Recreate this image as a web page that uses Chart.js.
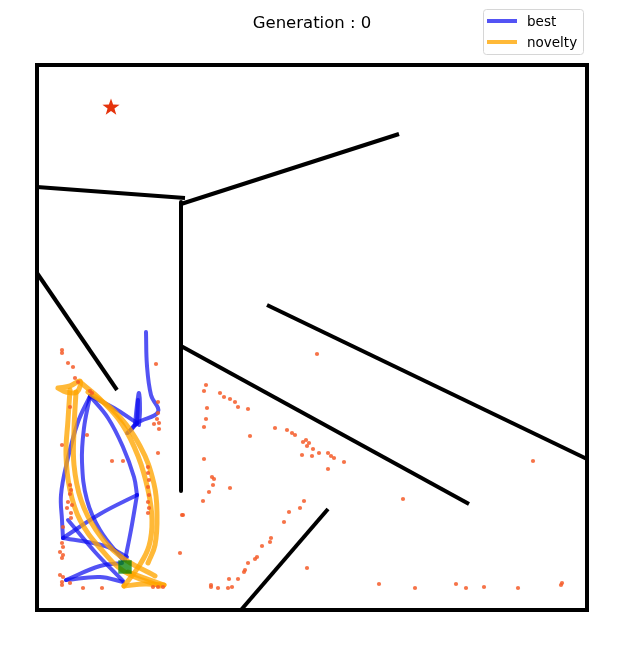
<!DOCTYPE html>
<html>
<head>
<meta charset="utf-8">
<script src="https://cdn.jsdelivr.net/npm/chart.js@4.4.0/dist/chart.umd.min.js"></script>
<style>
  body { margin: 0; background: #fff; }
</style>
</head>
<body>
<canvas id="maze" width="624" height="648"></canvas>
<script>
// maze coordinates (x to the right, y downwards)
const chartTitle = 'Generation : 0';
const seriesNames = ['best', 'novelty'];
const mazeBounds = [[37, 65], [587, 65], [587, 610], [37, 610], [37, 65]];
const walls = [
  [[37, 187], [185, 198]],
  [[181, 202], [181, 491]],
  [[181, 204], [399, 134]],
  [[37, 273], [117, 390]],
  [[267, 305], [587, 459]],
  [[181, 346], [469, 504]],
  [[241, 610], [328, 509]]
];
const goal = [111, 107];
const start = [125, 567];

// trajectory of the best genome
const bestStrokes = [
  [[146, 332], [147, 366], [151, 395], [158, 412], [137, 423], [128, 433]],
  [[135, 425], [137, 405], [139, 393], [140, 410], [139, 425]],
  [[137, 424], [138, 400]],
  [[137, 423], [131, 430], [127, 433]],
  [[90, 396], [114, 408], [137, 423]],
  [[90, 396], [78, 422], [67, 462], [61, 495], [62, 520], [63, 538]],
  [[90, 396], [108, 418], [123, 447], [134, 477], [137, 495]],
  [[90, 396], [84, 428], [82, 462], [87, 500], [100, 530], [123, 560]],
  [[63, 538], [100, 514], [137, 495]],
  [[137, 495], [131, 530], [125, 560]],
  [[63, 538], [105, 546], [127, 557]],
  [[68, 520], [95, 552], [123, 581]],
  [[66, 580], [100, 566], [122, 563]],
  [[66, 580], [100, 577], [123, 582]]
];

// trajectory of the most novel genome
const noveltyStrokes = [
  [[58, 388], [70, 386], [80, 381], [77, 392], [66, 392], [58, 388]],
  [[70, 390], [68, 420], [66, 455], [70, 490], [80, 520], [100, 548], [125, 572], [160, 586]],
  [[76, 392], [74, 430], [74, 465], [81, 500], [96, 530], [120, 556], [155, 576]],
  [[80, 382], [101, 400], [122, 424], [138, 456], [148, 490], [152, 520], [149, 546], [139, 566], [124, 586]],
  [[88, 392], [115, 412], [140, 446], [154, 484], [157, 515], [155, 545], [148, 563]],
  [[124, 586], [145, 584], [164, 585]],
  [[128, 572], [164, 585]]
];

// end points of the population
const visited = [
  [62, 350], [62, 353], [68, 363], [73, 367], [156, 364], [75, 378], [78, 382], [90, 391], [92, 393],
  [158, 402], [158, 413], [157, 419], [154, 424], [159, 423], [159, 429], [87, 435], [62, 445], [70, 407],
  [158, 453], [112, 461], [123, 461], [148, 467], [148, 473], [149, 480], [148, 487], [149, 495], [148, 502],
  [149, 508], [148, 513], [70, 485], [71, 490], [70, 494], [68, 502], [72, 505], [67, 508], [71, 513],
  [71, 518], [63, 527], [62, 543], [63, 547], [60, 552], [63, 555], [62, 558], [60, 575], [63, 577],
  [62, 582], [62, 585], [70, 583], [83, 588], [102, 588], [153, 587], [158, 587], [163, 587], [183, 515],
  [180, 553],
  [317, 354], [206, 385], [204, 391], [220, 393], [224, 397], [230, 399], [235, 402], [238, 407], [248, 409],
  [207, 408], [206, 419], [204, 427], [275, 428], [250, 436], [287, 430], [292, 433], [295, 435],
  [303, 442], [306, 440], [307, 446], [309, 443], [313, 449], [319, 453], [302, 455], [312, 456],
  [328, 453], [331, 456], [334, 458], [344, 462], [328, 469], [204, 459], [212, 477], [214, 479],
  [213, 485], [209, 492], [230, 488], [203, 501], [182, 515], [304, 501], [300, 508], [289, 512],
  [284, 522], [271, 538], [270, 542], [262, 546], [257, 557], [255, 559], [248, 563], [245, 570],
  [244, 572], [238, 579], [229, 579], [232, 587], [228, 588], [218, 588], [211, 587], [211, 585],
  [307, 568], [533, 461], [403, 499], [379, 584], [415, 588], [456, 584], [466, 588], [484, 587],
  [518, 588], [562, 583], [561, 585]
];

const toPoints = list => list.map(([x, y]) => ({ x, y }));

// filled star marker for the goal
const starMarker = document.createElement('canvas');
starMarker.width = 20;
starMarker.height = 20;
(function () {
  const c = starMarker.getContext('2d');
  c.beginPath();
  for (let i = 0; i < 10; i++) {
    const r = i % 2 === 0 ? 9 : 3.6;
    const a = -Math.PI / 2 + i * Math.PI / 5;
    const px = 10 + r * Math.cos(a);
    const py = 10.5 + r * Math.sin(a);
    if (i === 0) c.moveTo(px, py); else c.lineTo(px, py);
  }
  c.closePath();
  c.fillStyle = '#e5330c';
  c.fill();
})();

const BLUE = 'rgba(10, 10, 240, 0.7)';
const ORANGE = 'rgba(255, 165, 0, 0.78)';

const lineSet = (pts, color, width, order) => ({
  data: toPoints(pts),
  showLine: true,
  borderColor: color,
  borderWidth: width,
  pointRadius: 0,
  tension: 0.4,
  borderCapStyle: 'round',
  borderJoinStyle: 'round',
  clip: false,
  order: order
});

const datasets = [];
datasets.push(Object.assign(lineSet(mazeBounds, '#000', 4, 10), { tension: 0, borderCapStyle: 'square', borderJoinStyle: 'miter' }));
walls.forEach(w => datasets.push(Object.assign(lineSet(w, '#000', 4, 10), { tension: 0, borderCapStyle: 'butt' })));
bestStrokes.forEach(s => datasets.push(lineSet(s, BLUE, 4, 8)));
noveltyStrokes.forEach(s => datasets.push(lineSet(s, ORANGE, 5, 6)));
datasets.push({
  data: toPoints([start]),
  pointStyle: 'rect',
  pointRadius: 9.5,
  backgroundColor: 'rgba(0, 128, 0, 0.75)',
  borderWidth: 0,
  order: 5
});
datasets.push({
  data: toPoints(visited),
  pointRadius: 2.1,
  backgroundColor: 'rgba(244, 90, 40, 0.85)',
  borderWidth: 0,
  order: 4
});
datasets.push({
  data: toPoints([goal]),
  pointStyle: starMarker,
  order: 2
});

const decor = {
  id: 'decor',
  afterDraw(chart) {
    const ctx = chart.ctx;
    ctx.save();
    ctx.fillStyle = '#000';
    ctx.textAlign = 'center';
    ctx.textBaseline = 'middle';
    ctx.font = '16.5px "DejaVu Sans"';
    ctx.fillText(chartTitle, 312, 24);

    // legend box
    const bx = 483.5, by = 9.5, bw = 100, bh = 45, r = 3;
    ctx.beginPath();
    ctx.moveTo(bx + r, by);
    ctx.arcTo(bx + bw, by, bx + bw, by + bh, r);
    ctx.arcTo(bx + bw, by + bh, bx, by + bh, r);
    ctx.arcTo(bx, by + bh, bx, by, r);
    ctx.arcTo(bx, by, bx + bw, by, r);
    ctx.closePath();
    ctx.fillStyle = 'rgba(255,255,255,0.8)';
    ctx.fill();
    ctx.strokeStyle = '#d6d6d6';
    ctx.lineWidth = 1;
    ctx.stroke();

    const colors = [BLUE, ORANGE];
    ctx.textAlign = 'left';
    ctx.font = '13.5px "DejaVu Sans"';
    seriesNames.forEach((name, i) => {
      const y = 21 + i * 21;
      ctx.beginPath();
      ctx.moveTo(487, y);
      ctx.lineTo(517, y);
      ctx.strokeStyle = colors[i];
      ctx.lineWidth = 4;
      ctx.stroke();
      ctx.fillStyle = '#000';
      ctx.fillText(name, 527, y + 1);
    });
    ctx.restore();
  }
};

new Chart(document.getElementById('maze'), {
  type: 'scatter',
  data: { datasets },
  options: {
    responsive: false,
    animation: false,
    layout: { padding: { left: 37, right: 37, top: 65, bottom: 38 } },
    scales: {
      x: { type: 'linear', min: 37, max: 587, display: false },
      y: { type: 'linear', min: 65, max: 610, reverse: true, display: false }
    },
    plugins: {
      legend: { display: false },
      title: { display: false },
      tooltip: { enabled: false }
    }
  },
  plugins: [decor]
});
</script>
</body>
</html>
